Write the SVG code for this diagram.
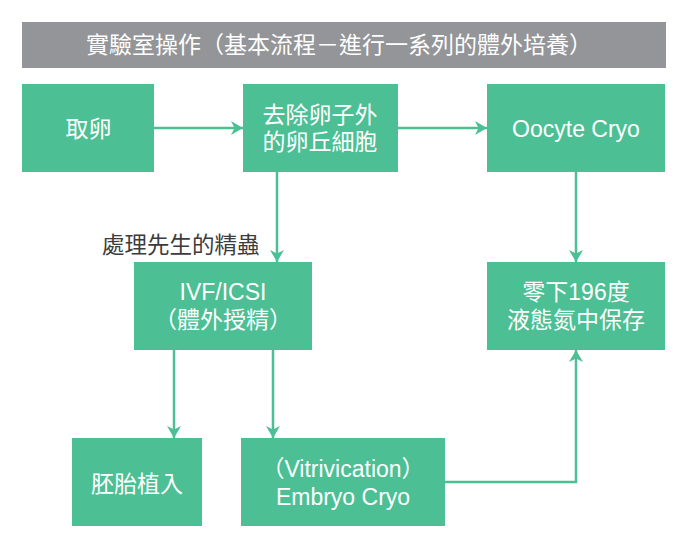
<svg xmlns="http://www.w3.org/2000/svg" width="689" height="544" viewBox="0 0 689 544">
<defs>
<style>
.box{fill:#4cbf94}
.t{font-family:"Liberation Sans","Noto Sans CJK TC",sans-serif;font-size:23px;fill:#ffffff;text-anchor:middle}
.c{fill:none;stroke:#4cbf94;stroke-width:2.5}
.lbl{font-family:"Liberation Sans","Noto Sans CJK TC",sans-serif;font-size:22.5px;fill:#3c3c3c}
</style>
<marker id="ah" viewBox="0 0 12 14" refX="12" refY="7" markerWidth="12" markerHeight="14" markerUnits="userSpaceOnUse" orient="auto">
<path d="M0,0 L12,7 L0,14 L3.5,7 Z" fill="#4cbf94"/>
</marker>
</defs>
<rect width="689" height="544" fill="#ffffff"/>
<g id="header">
<rect x="22" y="22" width="644" height="46" fill="#939598"/>
<text class="t" x="339" y="53">實驗室操作（基本流程－進行一系列的體外培養）</text>
</g>
<g id="connectors">
<line class="c" x1="154" y1="128" x2="243" y2="128" marker-end="url(#ah)"/>
<line class="c" x1="398" y1="128" x2="487" y2="128" marker-end="url(#ah)"/>
<line class="c" x1="277" y1="172" x2="277" y2="262" marker-end="url(#ah)"/>
<line class="c" x1="576" y1="172" x2="576" y2="262" marker-end="url(#ah)"/>
<line class="c" x1="174" y1="350" x2="174" y2="438" marker-end="url(#ah)"/>
<line class="c" x1="273" y1="350" x2="273" y2="438" marker-end="url(#ah)"/>
<polyline class="c" points="445,482 576,482 576,350" marker-end="url(#ah)"/>
<text class="lbl" x="102" y="253">處理先生的精蟲</text>
</g>
<g id="n1"><rect class="box" x="22" y="84" width="132" height="88"/><text class="t" x="88.5" y="137">取卵</text></g>
<g id="n2"><rect class="box" x="243" y="84" width="155" height="88"/><text class="t" x="320" y="123">去除卵子外</text><text class="t" x="320" y="150">的卵丘細胞</text></g>
<g id="n3"><rect class="box" x="487" y="84" width="178" height="88"/><text class="t" x="576" y="137">Oocyte Cryo</text></g>
<g id="n4"><rect class="box" x="134" y="262" width="178" height="88"/><text class="t" x="223" y="300">IVF/ICSI</text><text class="t" x="223" y="328">（體外授精）</text></g>
<g id="n5"><rect class="box" x="487" y="262" width="178" height="88"/><text class="t" x="576" y="300">零下196度</text><text class="t" x="576" y="328">液態氮中保存</text></g>
<g id="n6"><rect class="box" x="72" y="438" width="130" height="88"/><text class="t" x="137" y="492">胚胎植入</text></g>
<g id="n7"><rect class="box" x="241" y="438" width="204" height="88"/><text class="t" x="343" y="477">（Vitrivication）</text><text class="t" x="343" y="505">Embryo Cryo</text></g>
</svg>
